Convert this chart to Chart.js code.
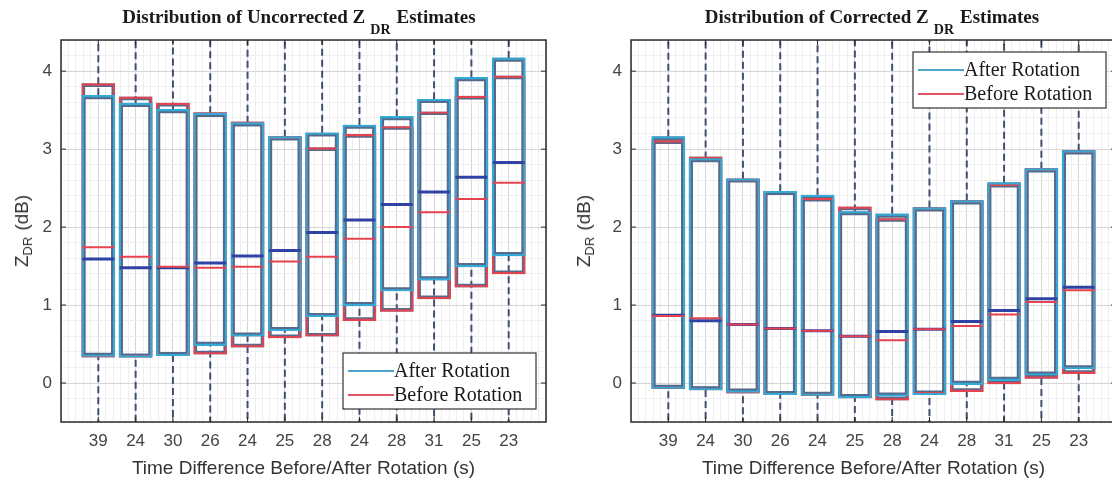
<!DOCTYPE html>
<html>
<head>
<meta charset="utf-8">
<script src="https://cdn.jsdelivr.net/npm/chart.js@4"></script>
<style>
html, body { margin: 0; padding: 0; background: #fff; overflow: hidden; width: 1112px; height: 481px; position: relative; }
canvas { position: absolute; top: 0; }
.title { position: absolute; top: 7px; font: bold 19px 'Liberation Serif', serif; color: #1a1a1a; white-space: nowrap; transform: translateX(-50%); line-height: 19px; }
.title .sub { position: relative; top: 11px; font-size: 14px; margin: 0 6px 0 5px; }
.ylab { position: absolute; font: 19px 'Liberation Sans', Arial, sans-serif; color: #333; white-space: nowrap; transform: translate(-50%, -50%) rotate(-90deg); }
.ylab sub { font-size: 13px; vertical-align: -4px; margin-right: 6px; }
</style>
</head>
<body>
<canvas id="uncorrected" width="556" height="481" style="left:0px"></canvas>
<canvas id="corrected" width="556" height="481" style="left:570px"></canvas>
<div class="title" style="left:299px">Distribution of Uncorrected Z<span class="sub">DR</span>Estimates</div>
<div class="title" style="left:872px">Distribution of Corrected Z<span class="sub">DR</span>Estimates</div>
<div class="ylab" style="left:23px; top:231px">Z<sub>DR</sub>(dB)</div>
<div class="ylab" style="left:585px; top:231px">Z<sub>DR</sub>(dB)</div>
<script>
// x tick labels: time difference before/after rotation (s)
const tickLabels = ['39', '24', '30', '26', '24', '25', '28', '24', '28', '31', '25', '23'];

// uncorrected ZDR, after rotation
const uncAfterQ1 = [0.34, 0.33, 0.35, 0.48, 0.60, 0.67, 0.85, 0.99, 1.18, 1.32, 1.49, 1.63];
const uncAfterMed = [1.59, 1.48, 1.48, 1.54, 1.63, 1.70, 1.93, 2.09, 2.29, 2.45, 2.64, 2.83];
const uncAfterQ3 = [3.69, 3.59, 3.51, 3.46, 3.34, 3.16, 3.21, 3.31, 3.42, 3.64, 3.92, 4.17];
// uncorrected ZDR, before rotation
const uncBeforeQ1 = [0.33, 0.33, 0.35, 0.37, 0.46, 0.58, 0.60, 0.80, 0.92, 1.08, 1.23, 1.40];
const uncBeforeMed = [1.74, 1.62, 1.49, 1.48, 1.49, 1.56, 1.62, 1.85, 2.00, 2.19, 2.36, 2.57];
const uncBeforeQ3 = [3.84, 3.67, 3.59, 3.47, 3.35, 3.16, 3.02, 3.19, 3.29, 3.48, 3.68, 3.94];
// whisker ends (beyond the axis limits)
const uncUpper = [8.0, 7.6, 7.3, 7.0, 6.8, 6.4, 6.2, 6.4, 6.6, 7.0, 7.5, 8.0];
const uncLower = [-3.8, -3.6, -3.4, -3.2, -3.0, -2.6, -2.3, -2.1, -1.9, -1.7, -1.6, -1.4];

// corrected ZDR, after rotation
const corAfterQ1 = [-0.07, -0.09, -0.12, -0.15, -0.16, -0.19, -0.17, -0.15, -0.02, 0.03, 0.10, 0.18];
const corAfterMed = [0.87, 0.80, 0.75, 0.70, 0.67, 0.60, 0.66, 0.69, 0.79, 0.93, 1.08, 1.23];
const corAfterQ3 = [3.16, 2.88, 2.62, 2.46, 2.41, 2.20, 2.17, 2.25, 2.34, 2.57, 2.75, 2.98];
// corrected ZDR, before rotation
const corBeforeQ1 = [-0.07, -0.09, -0.13, -0.15, -0.16, -0.19, -0.22, -0.14, -0.11, -0.01, 0.06, 0.12];
const corBeforeMed = [0.86, 0.83, 0.75, 0.70, 0.67, 0.60, 0.55, 0.69, 0.73, 0.88, 1.04, 1.19];
const corBeforeQ3 = [3.11, 2.90, 2.62, 2.46, 2.37, 2.26, 2.11, 2.25, 2.34, 2.55, 2.75, 2.98];
const corUpper = [6.8, 6.2, 5.8, 5.5, 5.4, 5.1, 5.0, 5.2, 5.4, 5.8, 6.0, 6.3];
const corLower = [-3.3, -3.0, -2.8, -2.6, -2.6, -2.5, -2.4, -2.4, -2.3, -2.2, -2.0, -1.8];

const AFTER = '#33a9d6';
const BEFORE = '#e5434f';
const SLATE = '#566a8b';
const WHISKER = '#3f4f6d';

const isInt = v => Math.abs(v - Math.round(v)) < 1e-6;

function boxData(q1, q3) {
    return q1.map((v, i) => ({ x: i + 1, y: [v, q3[i]] }));
}

function medianData(med) {
    return med.map((v, i) => ({ x: i + 1, y: v }));
}

function whiskerData(q1, q3, lower, upper) {
    const pts = [];
    q1.forEach((v, i) => {
        pts.push({ x: i + 1, y: q3[i] }, { x: i + 1, y: upper[i] }, { x: i + 1, y: null });
        pts.push({ x: i + 1, y: lower[i] }, { x: i + 1, y: v }, { x: i + 1, y: null });
    });
    return pts;
}

// frame round the plot area (with inward ticks) and the legend box drawn inside it
const framePlugin = {
    id: 'frame',
    afterDatasetsDraw(chart, args, opts) {
        const { ctx, chartArea: a, scales } = chart;
        ctx.save();
        ctx.strokeStyle = '#2b2b2b';
        ctx.lineWidth = 1.5;
        ctx.strokeRect(a.left, a.top, a.right - a.left, a.bottom - a.top);

        ctx.lineWidth = 1;
        ctx.beginPath();
        scales.y.ticks.forEach(t => {
            if (!isInt(t.value)) return;
            const py = scales.y.getPixelForValue(t.value);
            ctx.moveTo(a.left, py); ctx.lineTo(a.left + 5, py);
            ctx.moveTo(a.right, py); ctx.lineTo(a.right - 5, py);
        });
        scales.x.ticks.forEach(t => {
            if (!isInt(t.value) || t.value < 1 || t.value > 12) return;
            const px = scales.x.getPixelForValue(t.value);
            ctx.moveTo(px, a.bottom); ctx.lineTo(px, a.bottom - 5);
            ctx.moveTo(px, a.top); ctx.lineTo(px, a.top + 5);
        });
        ctx.stroke();

        const w = 193, h = 56;
        const x = a.right - 10 - w;
        const y = opts.legendAt === 'top' ? a.top + 12 : a.bottom - 13 - h;
        ctx.fillStyle = '#fff';
        ctx.fillRect(x, y, w, h);
        ctx.strokeStyle = '#333';
        ctx.lineWidth = 1.2;
        ctx.strokeRect(x, y, w, h);
        const rows = [['After Rotation', '#4fa3c8'], ['Before Rotation', '#e05566']];
        ctx.font = "20px 'Liberation Serif', serif";
        ctx.textBaseline = 'middle';
        rows.forEach(([txt, col], i) => {
            const ry = y + 18 + i * 24;
            ctx.strokeStyle = col;
            ctx.lineWidth = 2;
            ctx.beginPath();
            ctx.moveTo(x + 5, ry);
            ctx.lineTo(x + 51, ry);
            ctx.stroke();
            ctx.fillStyle = '#1a1a1a';
            ctx.fillText(txt, x + 51, ry + 1);
        });
        ctx.restore();
    }
};

function makePanel(id, s, legendAt) {
    const ctx = document.getElementById(id).getContext('2d');
    const box = (label, q1, q3, color, width, order) => ({
        type: 'bar',
        label,
        data: boxData(q1, q3),
        backgroundColor: 'rgba(0,0,0,0)',
        borderColor: color,
        borderWidth: width,
        borderSkipped: false,
        grouped: false,
        barThickness: 33,
        order
    });
    const median = (label, med, color, width, order) => ({
        type: 'scatter',
        label,
        data: medianData(med),
        pointStyle: 'line',
        pointRadius: 16,
        pointHoverRadius: 16,
        borderColor: color,
        borderWidth: width,
        pointBorderWidth: width,
        order
    });
    return new Chart(ctx, {
        type: 'bar',
        data: {
            datasets: [
                {
                    type: 'line',
                    label: 'whiskers',
                    data: whiskerData(s.aQ1, s.aQ3, s.lower, s.upper),
                    borderColor: WHISKER,
                    borderWidth: 2,
                    borderDash: [7, 4],
                    pointRadius: 0,
                    spanGaps: false,
                    order: 9
                },
                box('After shade', s.aQ1, s.aQ3, SLATE, 3.5, 8),
                box('Before shade', s.bQ1, s.bQ3, SLATE, 3, 7),
                box('Before Rotation', s.bQ1, s.bQ3, BEFORE, 1.5, 6),
                box('After Rotation', s.aQ1, s.aQ3, AFTER, 1.5, 5),
                median('After median', s.aMed, '#2e43a3', 3, 4),
                median('Before median', s.bMed, BEFORE, 2, 3)
            ]
        },
        options: {
            responsive: false,
            animation: false,
            layout: { autoPadding: false, padding: { top: 40, right: 10, left: 0, bottom: 0 } },
            plugins: {
                legend: { display: false },
                tooltip: { enabled: false },
                frame: { legendAt }
            },
            scales: {
                x: {
                    type: 'linear',
                    min: 0,
                    max: 13,
                    offset: false,
                    afterFit(scale) { scale.height = 59; },
                    grid: {
                        offset: false,
                        drawTicks: false,
                        color: c => (c.tick && isInt(c.tick.value)) ? '#d6d6d6' : '#efefef'
                    },
                    border: { display: false },
                    ticks: {
                        stepSize: 0.2,
                        autoSkip: false,
                        maxRotation: 0,
                        padding: 9,
                        color: '#444',
                        font: { family: "'Liberation Sans', Arial, sans-serif", size: 17 },
                        callback: v => (isInt(v) && v >= 1 && v <= 12) ? tickLabels[Math.round(v) - 1] : ''
                    },
                    title: {
                        display: true,
                        text: 'Time Difference Before/After Rotation (s)',
                        color: '#333',
                        font: { family: "'Liberation Sans', Arial, sans-serif", size: 19 },
                        padding: { top: 0, bottom: 1 }
                    }
                },
                y: {
                    min: -0.5,
                    max: 4.4,
                    afterFit(scale) { scale.width = 61; },
                    grid: {
                        drawTicks: false,
                        color: c => (c.tick && isInt(c.tick.value)) ? '#d6d6d6' : '#efefef'
                    },
                    border: { display: false },
                    ticks: {
                        stepSize: 0.2,
                        autoSkip: false,
                        padding: 9,
                        color: '#444',
                        font: { family: "'Liberation Sans', Arial, sans-serif", size: 17 },
                        callback: v => isInt(v) ? String(Math.round(v)) : ''
                    }
                }
            }
        },
        plugins: [framePlugin]
    });
}

makePanel('uncorrected', {
    aQ1: uncAfterQ1, aMed: uncAfterMed, aQ3: uncAfterQ3,
    bQ1: uncBeforeQ1, bMed: uncBeforeMed, bQ3: uncBeforeQ3,
    upper: uncUpper, lower: uncLower
}, 'bottom');

makePanel('corrected', {
    aQ1: corAfterQ1, aMed: corAfterMed, aQ3: corAfterQ3,
    bQ1: corBeforeQ1, bMed: corBeforeMed, bQ3: corBeforeQ3,
    upper: corUpper, lower: corLower
}, 'top');
</script>
</body>
</html>
